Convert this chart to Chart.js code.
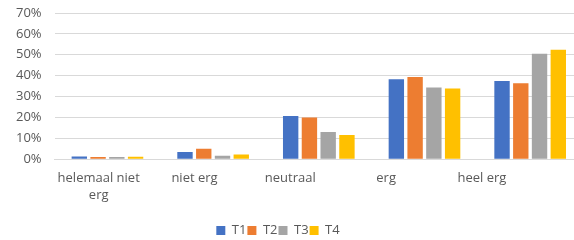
<!DOCTYPE html>
<html>
<head>
<meta charset="utf-8">
<script src="https://cdn.jsdelivr.net/npm/chart.js@4/dist/chart.umd.min.js"></script>
<style>
  html, body { margin: 0; padding: 0; background: #fff; overflow: hidden; }
  /* het origineel is rechts afgesneden: canvas iets breder dan het venster */
  #wrap { width: 583px; height: 240px; }
</style>
</head>
<body>
<div id="wrap"><canvas id="chart"></canvas></div>
<script>
// categorieën en reeksen (percentages)
const categories = [["helemaal niet", "erg"], "niet erg", "neutraal", "erg", "heel erg"];
const seriesNames = ["T1", "T2", "T3", "T4"];
const t1 = [1.3, 3.4, 20.7, 38.3, 37.4];
const t2 = [1.0, 5.0, 20.0, 39.3, 36.4];
const t3 = [1.1, 1.6, 13.0, 34.3, 50.5];
const t4 = [1.2, 2.3, 11.6, 33.8, 52.4];
const yTicks = [0, 10, 20, 30, 40, 50, 60, 70];
const colors = ["#4472C4", "#ED7D31", "#A5A5A5", "#FFC000"];

const allSeries = [t1, t2, t3, t4];
const txt = "#595959";
const fnt = { family: "Open Sans", size: 13, lineHeight: 1.3 };
const labelMin = -0.46, labelMax = 5.055;

// legenda compacter en iets naar links
const legendFit = {
  id: "legendFit",
  beforeInit(chart) {
    const fit = chart.legend.fit;
    chart.legend.fit = function () {
      fit.call(this);
      this.height -= 7;
    };
  },
  afterLayout(chart) {
    chart.legend.left -= 15;
    chart.legend.right -= 15;
  }
};

new Chart(document.getElementById("chart"), {
  type: "bar",
  data: {
    labels: categories,
    datasets: allSeries.map((vals, i) => ({
      label: seriesNames[i],
      data: vals,
      backgroundColor: colors[i],
      categoryPercentage: 0.71,
      barPercentage: 0.82
    }))
  },
  options: {
    responsive: true,
    maintainAspectRatio: false,
    animation: false,
    layout: { padding: { top: 13, right: 0, left: 3, bottom: 0 } },
    scales: {
      y: {
        min: 0,
        max: 70,
        afterBuildTicks: axis => { axis.ticks = yTicks.map(v => ({ value: v })); },
        afterFit: s => { s.paddingTop = 0; },
        ticks: {
          callback: v => v + "%",
          color: txt,
          font: fnt,
          padding: 13,
          autoSkip: false
        },
        grid: { color: "#d9d9d9", drawTicks: false },
        border: { display: false }
      },
      x: {
        weight: 0,
        ticks: { display: false },
        grid: { display: false, drawTicks: false },
        border: { color: "#d9d9d9" }
      },
      // labels van de categorie-as staan in het origineel dichter op elkaar
      xl: {
        type: "linear",
        position: "bottom",
        weight: 1,
        offset: false,
        bounds: "data",
        min: labelMin,
        max: labelMax,
        afterBuildTicks: axis => {
          axis.ticks = categories.map((c, i) => ({ value: i }));
        },
        afterFit: scale => { scale.height += 8; },
        ticks: {
          callback: v => categories[v],
          color: txt,
          font: fnt,
          maxRotation: 0,
          padding: 11,
          autoSkip: false
        },
        grid: { display: false, drawTicks: false },
        border: { display: false }
      }
    },
    plugins: {
      legend: {
        position: "bottom",
        labels: {
          boxWidth: 9,
          boxHeight: 9,
          color: txt,
          font: fnt,
          padding: 1
        }
      },
      tooltip: { enabled: false }
    }
  },
  plugins: [legendFit]
});
</script>
</body>
</html>
